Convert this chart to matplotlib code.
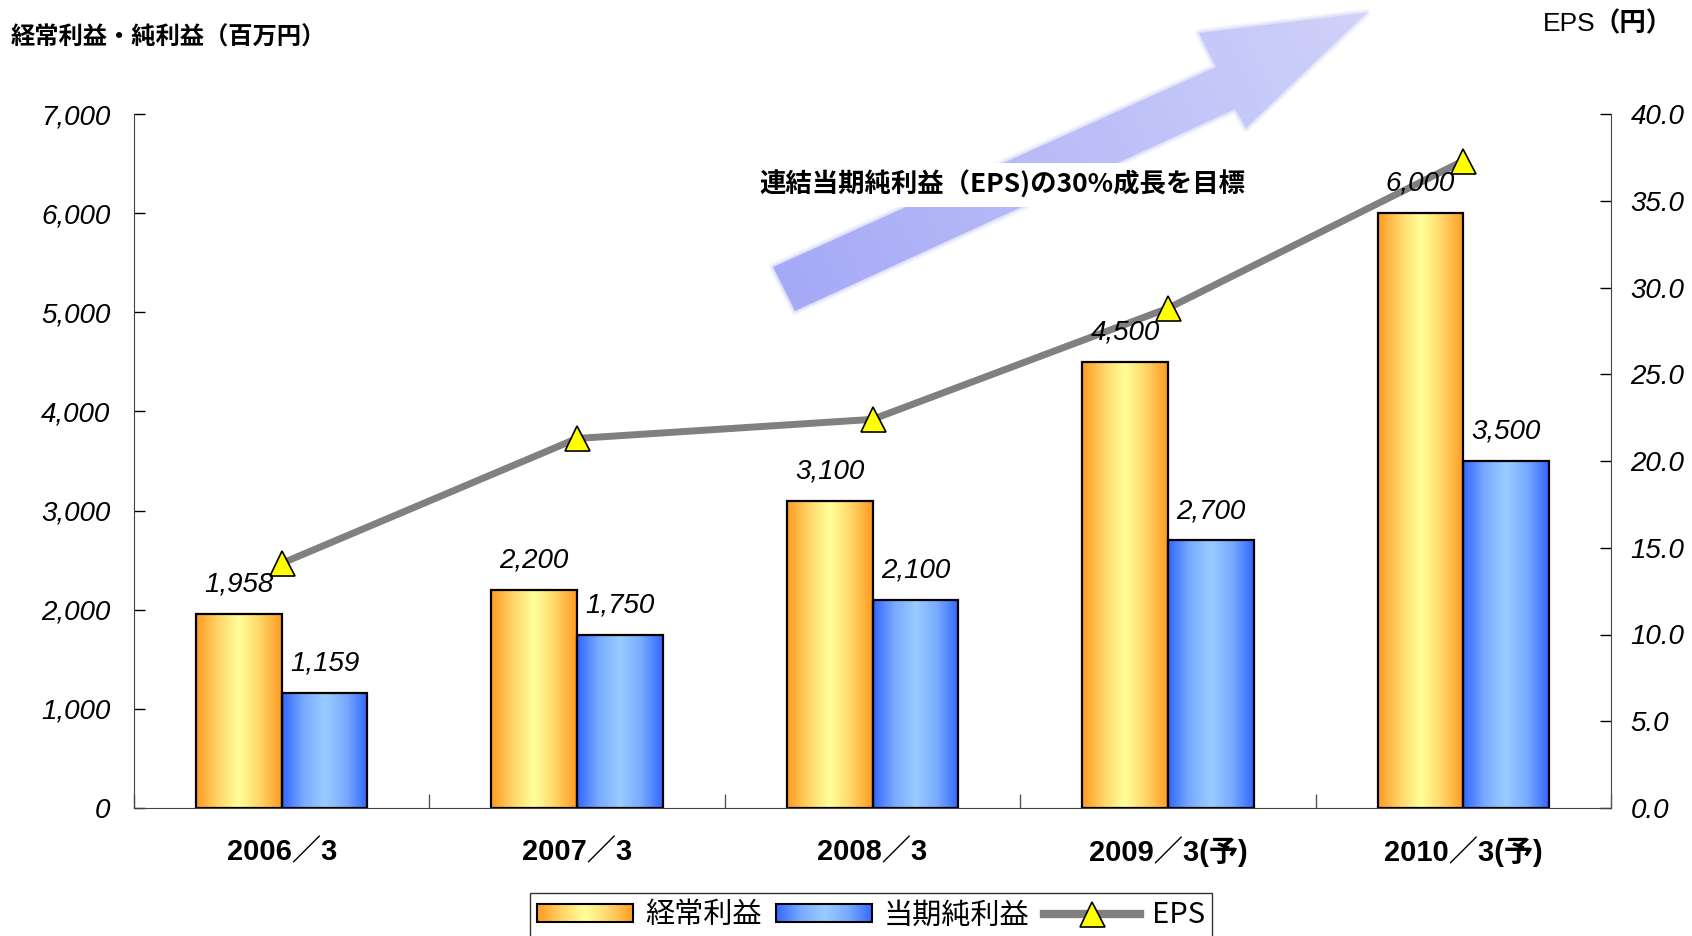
import numpy as np
import matplotlib
matplotlib.use('Agg')
import matplotlib.pyplot as plt
from matplotlib.patches import Polygon, Rectangle, Patch
from matplotlib.lines import Line2D
from matplotlib.legend_handler import HandlerBase
from matplotlib.image import BboxImage
from matplotlib.transforms import Bbox, TransformedBbox
from matplotlib.colors import LinearSegmentedColormap

# data
years = ['2006／3', '2007／3', '2008／3', '2009／3(予)', '2010／3(予)']
keijo = [1958, 2200, 3100, 4500, 6000]      # 経常利益
junri = [1159, 1750, 2100, 2700, 3500]      # 当期純利益
eps = [14.1, 21.3, 22.4, 28.8, 37.3]        # EPS (円)

LAT = ['Liberation Sans', 'Noto Sans CJK JP']
JP = ['Noto Sans CJK JP', 'DejaVu Sans']
plt.rcParams['font.family'] = LAT

orange = LinearSegmentedColormap.from_list('o', ['#ffff99', '#ffd466', '#ff9a22'])
blue = LinearSegmentedColormap.from_list('b', ['#99ccff', '#77aaff', '#3366ff'])
grad = np.abs(np.linspace(-1, 1, 256))[None, :]

W, H = 1692, 936
fig = plt.figure(figsize=(W / 100, H / 100), dpi=100)

# background layer in pixel coords for the big arrow
bg = fig.add_axes([0, 0, 1, 1], zorder=0)
bg.set_xlim(0, W)
bg.set_ylim(H, 0)
bg.axis('off')
arrow_pts = [(773, 267), (1216, 67), (1199, 33), (1366, 13),
             (1246, 128), (1235, 109), (795, 311)]
arrow_cm = LinearSegmentedColormap.from_list('a', ['#a4a8f6', '#d0d2f9'])
xx, yy = np.meshgrid(np.linspace(0, 1, 200), np.linspace(0, 1, 200))
g = (xx * 0.8 + (1 - yy) * 0.2)
# soft edge: a few faint outlines under the main shape
for lw, al in [(6, 0.15), (3, 0.3)]:
    bg.add_patch(Polygon(arrow_pts, closed=True, facecolor='none', edgecolor='#b8bbf7',
                         linewidth=lw, alpha=al, joinstyle='round', zorder=1))
poly = Polygon(arrow_pts, closed=True, facecolor='none', edgecolor='none')
bg.add_patch(poly)
img = bg.imshow(g, cmap=arrow_cm, extent=(770, 1370, 315, 10), aspect='auto',
                interpolation='bilinear', zorder=2)
img.set_clip_path(poly)
bg.set_xlim(0, W)
bg.set_ylim(H, 0)
bg.text(1002, 185, '連結当期純利益（EPS)の30%成長を目標', family=JP, fontweight='bold',
        fontsize=19, ha='center', va='center', zorder=3,
        bbox=dict(facecolor='white', edgecolor='none', pad=6))

ax = fig.add_axes([134 / W, 1 - 808 / H, (1611 - 134) / W, (808 - 114) / H])
ax2 = ax.twinx()
ax.set_zorder(3)
ax2.set_zorder(2)
ax.patch.set_visible(False)
ax2.patch.set_visible(False)

x = np.arange(len(years))
bw = 0.29
for xi, v in zip(x - bw / 2, keijo):
    ax.imshow(grad, cmap=orange, extent=(xi - bw / 2, xi + bw / 2, 0, v),
              aspect='auto', interpolation='bilinear', zorder=2)
for xi, v in zip(x + bw / 2, junri):
    ax.imshow(grad, cmap=blue, extent=(xi - bw / 2, xi + bw / 2, 0, v),
              aspect='auto', interpolation='bilinear', zorder=2)
ax.bar(x - bw / 2, keijo, bw, facecolor='none', edgecolor='black', linewidth=1.6, zorder=3)
ax.bar(x + bw / 2, junri, bw, facecolor='none', edgecolor='black', linewidth=1.6, zorder=3)

for xi, v in zip(x - bw / 2, keijo):
    ax.annotate(f'{v:,}', (xi, v), xytext=(0, 21), textcoords='offset points',
                ha='center', va='center', fontsize=20, style='italic', zorder=6)
for xi, v in zip(x + bw / 2, junri):
    ax.annotate(f'{v:,}', (xi, v), xytext=(0, 21), textcoords='offset points',
                ha='center', va='center', fontsize=20, style='italic', zorder=6)

ax2.plot(x, eps, color='#808080', linewidth=5, marker='^', markersize=18,
         markerfacecolor='#ffff00', markeredgecolor='black', markeredgewidth=1.2,
         solid_capstyle='butt', zorder=5)

ax.set_xlim(-0.5, 4.5)
ax.set_ylim(0, 7000)
ax2.set_ylim(0, 40)

ax.set_yticks(np.arange(0, 7001, 1000))
ax.set_yticklabels([f'{v:,}' for v in range(0, 7001, 1000)], style='italic', fontsize=20)
ax2.set_yticks(np.arange(0, 40.1, 5))
ax2.set_yticklabels([f'{v:.1f}' for v in np.arange(0, 40.1, 5)], style='italic', fontsize=20)
ax.tick_params(axis='y', direction='in', length=8, width=1, pad=17, colors='black')
ax2.tick_params(axis='y', direction='in', length=8, width=1, pad=14)

ax.set_xticks(x)
ax.set_xticklabels(years, fontsize=21, fontweight='bold')
ax.tick_params(axis='x', which='major', length=0, pad=38)
ax.set_xticks(np.arange(-0.5, 4.6, 1), minor=True)
ax.tick_params(axis='x', which='minor', direction='in', length=10, width=1, color='#555555')
for lbl in ax.get_xticklabels():
    lbl.set_verticalalignment('baseline')

for a in (ax, ax2):
    a.spines['top'].set_visible(False)
ax.spines['right'].set_visible(False)
for s in ('left', 'bottom'):
    ax.spines[s].set_color('#444444')
ax2.spines['left'].set_visible(False)
ax2.spines['bottom'].set_visible(False)
ax2.spines['right'].set_color('#444444')


class GradHandler(HandlerBase):
    def __init__(self, cmap):
        super().__init__()
        self.cmap = cmap

    def create_artists(self, legend, orig_handle, xdescent, ydescent, width, height, fontsize, trans):
        bb = TransformedBbox(Bbox.from_bounds(-xdescent, -ydescent, width, height), trans)
        im = BboxImage(bb, cmap=self.cmap, interpolation='bilinear')
        im.set_data(grad)
        rect = Rectangle((-xdescent, -ydescent), width, height, facecolor='none',
                         edgecolor='black', linewidth=1.5, transform=trans)
        return [im, rect]


h1 = Patch(label='経常利益')
h2 = Patch(label='当期純利益')
h3 = Line2D([], [], color='#808080', linewidth=6, marker='^', markersize=18,
            markerfacecolor='#ffff00', markeredgecolor='black', markeredgewidth=1.2)
leg = fig.legend([h1, h2, h3], ['経常利益', '当期純利益', 'EPS'],
                 handler_map={h1: GradHandler(orange), h2: GradHandler(blue)},
                 loc='upper center', bbox_to_anchor=(871 / W, 1 - 893 / H), ncol=3,
                 prop={'family': JP, 'size': 21}, frameon=True, fancybox=False,
                 edgecolor='black', handlelength=3.3, handleheight=0.6,
                 handletextpad=0.4, columnspacing=0.5, borderpad=0.25,
                 borderaxespad=0)
leg.get_frame().set_linewidth(1)

fig.text(11 / W, 1 - 38 / H, '経常利益・純利益（百万円）', family=JP, fontweight='bold',
         fontsize=17.5, ha='left', va='center')
fig.text(1543 / W, 1 - 24 / H, 'EPS', fontsize=19, ha='left', va='center')
fig.text(1593 / W, 1 - 24 / H, '（円）', family=JP, fontweight='bold', fontsize=19,
         ha='left', va='center')

fig.savefig('out.png', dpi=100)
